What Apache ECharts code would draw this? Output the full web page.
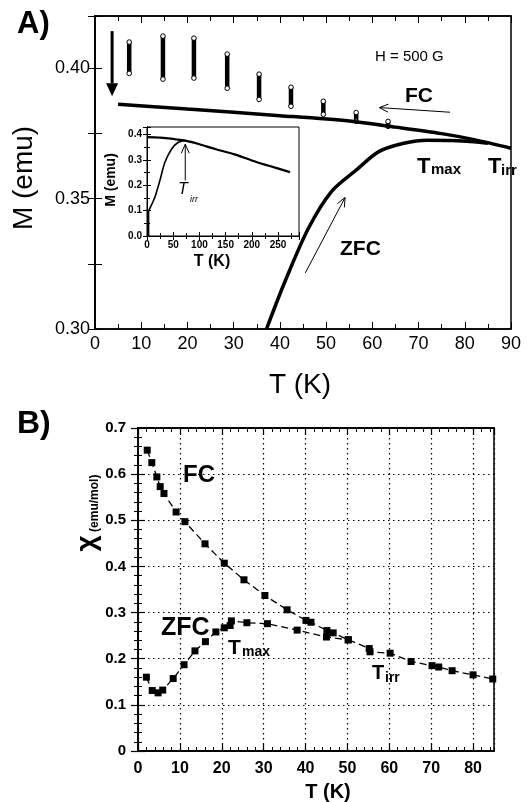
<!DOCTYPE html>
<html>
<head>
<meta charset="utf-8">
<script src="https://cdn.jsdelivr.net/npm/echarts@6/dist/echarts.min.js"></script>
<style>
  html, body { margin: 0; padding: 0; background: #fff; }
  #chart { width: 529px; height: 802px; }
</style>
</head>
<body>
<div id="chart"></div>
<script>
// ---- Panel A: M (emu) vs T (K), H = 500 G ----
const fcA = [[5, 0.3862], [20, 0.3843], [40, 0.3818], [55, 0.3797], [65, 0.3774], [75, 0.3749], [82, 0.3726], [90, 0.3693]];
const zfcA = [[37.1, 0.300], [41.1, 0.3182], [46.2, 0.3387], [51.2, 0.3528], [56.7, 0.3612], [61.4, 0.3680],
              [66.8, 0.3712], [71.9, 0.3724], [77, 0.3723], [82, 0.3718], [85, 0.3712]];
// vertical stacks of open circles (relaxation at fixed T)
const stackT = [7.4, 14.7, 21.4, 28.6, 35.5, 42.4, 49.4, 56.5, 63.4];
const stackTop = [0.4100, 0.4123, 0.4115, 0.4054, 0.3977, 0.3927, 0.3873, 0.3830, 0.3796];
const stackBottom = [0.3980, 0.3958, 0.3962, 0.3923, 0.3880, 0.3854, 0.3823, 0.3796, 0.3777];
// arrows: x1, y1, x2, y2, filled
const arrowsA = [[3.7, 0.4142, 3.7, 0.3892, 1], [76.8, 0.3831, 61.5, 0.3849, 0], [45.5, 0.3215, 54.1, 0.3504, 0]];

// ---- Inset ----
const insetFcT = [0, 25, 50, 71, 100, 130, 167, 200, 231, 273];
const insetFcM = [0.390, 0.388, 0.383, 0.377, 0.362, 0.343, 0.322, 0.298, 0.278, 0.252];
const insetZfcT = [3, 3, 5, 15, 24.6, 34, 47, 59, 72];
const insetZfcM = [0.0, 0.10, 0.107, 0.153, 0.219, 0.290, 0.343, 0.369, 0.377];
const arrowsInset = [[73, 0.219, 73, 0.362, 0]];

// ---- Panel B: chi (emu/mol) vs T (K) ----
const fcT = [2.2, 3.3, 4.5, 5.3, 6.2, 9.1, 11.2, 16.0, 20.6, 25.3, 30.3, 35.6, 40.1, 41.3, 45.1, 46.6, 50.2,
             55.2, 55.4, 60.2, 65.2, 70.2, 71.8, 75.0, 80.0, 84.7];
const fcChi = [0.652, 0.625, 0.594, 0.573, 0.558, 0.518, 0.497, 0.449, 0.407, 0.371, 0.337, 0.306, 0.283, 0.279,
               0.261, 0.256, 0.241, 0.222, 0.215, 0.212, 0.194, 0.185, 0.182, 0.174, 0.165, 0.156];
const zfcT = [2.0, 3.4, 4.8, 5.9, 8.4, 11.0, 13.6, 16.1, 18.6, 20.6, 22.0, 22.3, 26.0, 30.9, 38.0, 45.0, 50.2];
const zfcChi = [0.160, 0.131, 0.126, 0.132, 0.157, 0.187, 0.217, 0.237, 0.258, 0.267, 0.272, 0.282, 0.278, 0.276,
                0.262, 0.247, 0.241];

const FF = '"Liberation Sans", Arial, Helvetica, sans-serif';
const zip = (a, b) => a.map((v, i) => [v, b[i]]);

function renderStack(params, api) {
  const top = api.coord([api.value(0), api.value(1)]);
  const bot = api.coord([api.value(0), api.value(2)]);
  const ring = p => ({ type: 'circle', shape: { cx: p[0], cy: p[1], r: 2.3 }, style: { fill: '#fff', stroke: '#000', lineWidth: 1 } });
  return {
    type: 'group',
    children: [
      { type: 'line', shape: { x1: top[0], y1: top[1], x2: bot[0], y2: bot[1] }, style: { stroke: '#000', lineWidth: 4.5 } },
      ring(top), ring(bot)
    ]
  };
}

function renderArrow(params, api) {
  const p1 = api.coord([api.value(0), api.value(1)]);
  const p2 = api.coord([api.value(2), api.value(3)]);
  const filled = api.value(4) === 1;
  const dx = p2[0] - p1[0], dy = p2[1] - p1[1];
  const len = Math.hypot(dx, dy);
  const ux = dx / len, uy = dy / len;
  const hl = filled ? 13 : 9, hw = filled ? 6 : 4;
  const bx = p2[0] - ux * hl, by = p2[1] - uy * hl;
  const l = [bx - uy * hw, by + ux * hw], r = [bx + uy * hw, by - ux * hw];
  const children = [{
    type: 'line',
    shape: { x1: p1[0], y1: p1[1], x2: filled ? bx : p2[0], y2: filled ? by : p2[1] },
    style: { stroke: '#000', lineWidth: filled ? 3 : 1 }
  }];
  if (filled) children.push({ type: 'polygon', shape: { points: [p2, l, r] }, style: { fill: '#000' } });
  else children.push({ type: 'polyline', shape: { points: [l, p2, r] }, style: { stroke: '#000', fill: null, lineWidth: 1 } });
  return { type: 'group', children };
}

// axis builder: ticks inside, black
function ax(o) {
  return Object.assign({
    type: 'value',
    axisLine: { show: true, lineStyle: { color: '#000', width: 1.5 } },
    axisTick: { show: true, inside: true, length: 7, lineStyle: { color: '#000', width: 1 } },
    minorTick: { show: false },
    axisLabel: { show: false },
    splitLine: { show: false }
  }, o);
}

function txt(text, x, y, font, align, extra) {
  return Object.assign({
    type: 'text', x, y, z: 100,
    style: { text, font, fill: '#000', align: align || 'left', verticalAlign: 'middle' }
  }, extra || {});
}

const isMult = (v, step) => Math.abs(v / step - Math.round(v / step)) < 1e-6;

const option = {
  animation: false,
  backgroundColor: '#fff',
  grid: [
    { left: 95, top: 16, width: 416, height: 313, show: true, borderColor: '#000', borderWidth: 1.5, backgroundColor: 'transparent' },
    { left: 147, top: 127, width: 152, height: 109, show: true, borderColor: '#000', borderWidth: 1, backgroundColor: '#fff' },
    { left: 138, top: 428, width: 356, height: 323, show: true, borderColor: '#000', borderWidth: 1.5, backgroundColor: 'transparent' }
  ],
  xAxis: [
    ax({ gridIndex: 0, min: 0, max: 90, interval: 10, position: 'bottom',
         minorTick: { show: true, splitNumber: 2, length: 5, lineStyle: { color: '#000' } },
         axisLabel: { show: true, fontSize: 18, color: '#000', margin: 6, fontFamily: FF } }),
    ax({ gridIndex: 0, min: 0, max: 90, interval: 10, position: 'top',
         minorTick: { show: true, splitNumber: 2, length: 5, lineStyle: { color: '#000' } } }),
    ax({ gridIndex: 1, min: 0, max: 290, interval: 50, position: 'bottom',
         axisLine: { show: true, lineStyle: { color: '#000', width: 1 } },
         axisTick: { show: true, inside: true, length: 4, lineStyle: { color: '#000' } },
         minorTick: { show: true, splitNumber: 2, length: 3, lineStyle: { color: '#000' } },
         axisLabel: { show: true, fontSize: 10, fontWeight: 'bold', color: '#000', margin: 4, fontFamily: FF, showMaxLabel: false } }),
    ax({ gridIndex: 1, min: 0, max: 290, interval: 50, position: 'top',
         axisLine: { show: true, lineStyle: { color: '#000', width: 1 } },
         axisTick: { show: true, inside: true, length: 4, lineStyle: { color: '#000' } },
         minorTick: { show: true, splitNumber: 2, length: 3, lineStyle: { color: '#000' } } }),
    ax({ gridIndex: 2, min: 0, max: 85, interval: 10, position: 'bottom',
         axisTick: { show: true, inside: true, length: 7, lineStyle: { color: '#000', width: 1.2 } },
         axisLabel: { show: true, fontSize: 16, fontWeight: 'bold', color: '#000', margin: 10, fontFamily: FF, showMaxLabel: false },
         splitLine: { show: true, lineStyle: { color: '#000', width: 1.2, type: [1.5, 3.5] } } }),
    ax({ gridIndex: 2, min: 0, max: 85, interval: 2, position: 'bottom',
         axisTick: { show: true, inside: true, length: 4, lineStyle: { color: '#000' } } }),
    ax({ gridIndex: 2, min: 0, max: 85, interval: 10, position: 'top',
         axisTick: { show: true, inside: true, length: 7, lineStyle: { color: '#000', width: 1.2 } } }),
    ax({ gridIndex: 2, min: 0, max: 85, interval: 2, position: 'top',
         axisTick: { show: true, inside: true, length: 4, lineStyle: { color: '#000' } } })
  ],
  yAxis: [
    ax({ gridIndex: 0, min: 0.30, max: 0.42, interval: 0.025, position: 'left',
         axisLabel: { show: true, fontSize: 18, color: '#000', margin: 5, fontFamily: FF,
                      formatter: v => (isMult(v, 0.05) && v < 0.415) ? v.toFixed(2) : '' } }),
    ax({ gridIndex: 0, min: 0.30, max: 0.42, interval: 0.025, position: 'right' }),
    ax({ gridIndex: 1, min: 0, max: 0.43, interval: 0.1, position: 'left',
         axisLine: { show: true, lineStyle: { color: '#000', width: 1 } },
         axisTick: { show: true, inside: true, length: 4, lineStyle: { color: '#000' } },
         minorTick: { show: true, splitNumber: 2, length: 3, lineStyle: { color: '#000' } },
         axisLabel: { show: true, fontSize: 10, fontWeight: 'bold', color: '#000', margin: 5, fontFamily: FF, showMaxLabel: false,
                      formatter: v => v.toFixed(1) } }),
    ax({ gridIndex: 1, min: 0, max: 0.43, interval: 0.1, position: 'right',
         axisLine: { show: true, lineStyle: { color: '#000', width: 1 } },
         axisTick: { show: true, inside: true, length: 4, lineStyle: { color: '#000' } },
         minorTick: { show: true, splitNumber: 2, length: 3, lineStyle: { color: '#000' } } }),
    ax({ gridIndex: 2, min: 0, max: 0.7, interval: 0.1, position: 'left',
         axisTick: { show: true, inside: true, length: 7, lineStyle: { color: '#000', width: 1.2 } },
         minorTick: { show: true, splitNumber: 5, length: 4, lineStyle: { color: '#000' } },
         axisLabel: { show: true, fontSize: 15, fontWeight: 'bold', color: '#000', margin: 12, fontFamily: FF },
         splitLine: { show: true, lineStyle: { color: '#000', width: 1.2, type: [1.5, 3.5] } } }),
    ax({ gridIndex: 2, min: 0, max: 0.7, interval: 0.1, position: 'right',
         axisTick: { show: true, inside: true, length: 7, lineStyle: { color: '#000', width: 1.2 } },
         minorTick: { show: true, splitNumber: 5, length: 4, lineStyle: { color: '#000' } } })
  ],
  series: [
    { name: 'FC', type: 'line', xAxisIndex: 0, yAxisIndex: 0, data: fcA, smooth: 0.3, showSymbol: false,
      lineStyle: { color: '#000', width: 3.5 } },
    { name: 'ZFC', type: 'line', xAxisIndex: 0, yAxisIndex: 0, data: zfcA, smooth: 0.3, showSymbol: false,
      lineStyle: { color: '#000', width: 3.5 } },
    { name: 'relaxation', type: 'custom', xAxisIndex: 0, yAxisIndex: 0, clip: false, renderItem: renderStack,
      data: stackT.map((t, i) => [t, stackTop[i], stackBottom[i]]) },
    { name: 'arrowsA', type: 'custom', xAxisIndex: 0, yAxisIndex: 0, clip: false, renderItem: renderArrow, data: arrowsA },
    { name: 'inset FC', type: 'line', xAxisIndex: 2, yAxisIndex: 2, data: zip(insetFcT, insetFcM), smooth: 0.3,
      showSymbol: false, lineStyle: { color: '#000', width: 2.2 } },
    { name: 'inset ZFC', type: 'line', xAxisIndex: 2, yAxisIndex: 2, data: zip(insetZfcT, insetZfcM), smooth: 0.3,
      showSymbol: false, lineStyle: { color: '#000', width: 1.6 } },
    { name: 'arrowsInset', type: 'custom', xAxisIndex: 2, yAxisIndex: 2, clip: false, renderItem: renderArrow, data: arrowsInset },
    { name: 'FC B', type: 'line', xAxisIndex: 4, yAxisIndex: 4, data: zip(fcT, fcChi), symbol: 'rect', symbolSize: 7,
      itemStyle: { color: '#000' }, lineStyle: { color: '#000', width: 1.3, type: [7, 4] } },
    { name: 'ZFC B', type: 'line', xAxisIndex: 4, yAxisIndex: 4, data: zip(zfcT, zfcChi), symbol: 'rect', symbolSize: 7,
      itemStyle: { color: '#000' }, lineStyle: { color: '#000', width: 1.3, type: [7, 4] } }
  ],
  graphic: {
    elements: [
      txt('A)', 17, 24, 'bold 31px ' + FF),
      txt('B)', 17, 424, 'bold 32px ' + FF),
      txt('H = 500 G', 375, 57, '15px ' + FF),
      txt('FC', 405, 96, 'bold 21px ' + FF),
      txt('ZFC', 340, 249, 'bold 21px ' + FF),
      txt('T', 417, 167, 'bold 22px ' + FF),
      txt('max', 431, 170, 'bold 15px ' + FF),
      txt('T', 488, 167, 'bold 22px ' + FF),
      txt('irr', 501, 171, 'bold 15px ' + FF),
      txt('M (emu)', 24, 178, '28px ' + FF, 'center', { rotation: Math.PI / 2 }),
      txt('T (K)', 300, 385, '28px ' + FF, 'center'),
      // inset labels
      txt('T', 178, 190, 'italic 16px ' + FF),
      txt('irr', 190, 199, 'italic 9px ' + FF),
      txt('M (emu)', 111, 180, 'bold 14px ' + FF, 'center', { rotation: Math.PI / 2 }),
      txt('T (K)', 212, 262, 'bold 16px ' + FF, 'center'),
      // panel B labels
      txt('FC', 183, 475, 'bold 24px ' + FF),
      txt('ZFC', 161, 628, 'bold 25px ' + FF),
      txt('T', 228, 648, 'bold 21px ' + FF),
      txt('max', 242, 652, 'bold 14px ' + FF),
      txt('T', 372, 673, 'bold 20px ' + FF),
      txt('irr', 385, 678, 'bold 14px ' + FF),
      txt('T (K)', 328, 792, 'bold 20px ' + FF, 'center'),
      {
        type: 'text', x: 87, y: 513, rotation: Math.PI / 2, z: 100,
        style: {
          text: '{c|χ} {e|(emu/mol)}', align: 'center', verticalAlign: 'middle', fill: '#000',
          rich: {
            c: { font: 'bold 28px ' + FF, verticalAlign: 'bottom' },
            e: { font: 'bold 12px ' + FF, verticalAlign: 'bottom' }
          }
        }
      }
    ]
  }
};

const chart = echarts.init(document.getElementById('chart'));
chart.setOption(option);
</script>
</body>
</html>
